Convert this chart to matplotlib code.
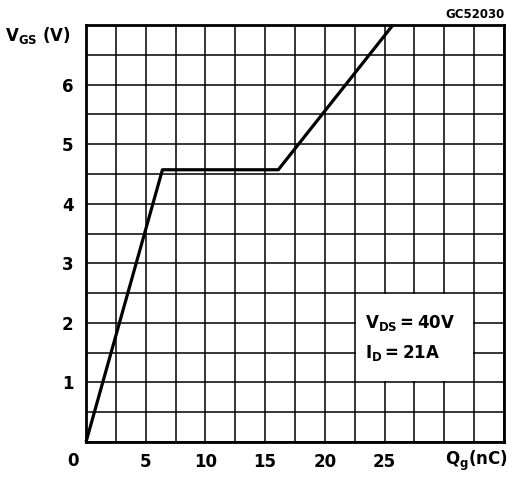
import matplotlib
matplotlib.use("Agg")
import matplotlib.pyplot as plt
import numpy as np
from matplotlib.patches import Rectangle

# gate charge curve (nC, V)
qg = [0.0, 6.4, 16.1, 25.7]
vgs = [0.0, 4.57, 4.57, 7.0]

x_labels = [5, 10, 15, 20, 25]
y_labels = [1, 2, 3, 4, 5, 6]
x_max, y_max = 35, 7

plt.rcParams['font.family'] = ['DejaVu Sans']
plt.rcParams['font.weight'] = 'bold'
plt.rcParams['mathtext.default'] = 'regular'

fig = plt.figure(figsize=(5.12, 4.78), dpi=100)
ax = fig.add_axes([86 / 512, 1 - 442 / 478, 418 / 512, 417 / 478])

ax.set_xlim(0, x_max)
ax.set_ylim(0, y_max)

ax.set_xticks(x_labels)
ax.set_xticklabels([str(v) for v in x_labels])
ax.set_xticks(np.arange(0, x_max + 0.1, 2.5), minor=True)
ax.set_yticks(y_labels)
ax.set_yticklabels([str(v) for v in y_labels])
ax.set_yticks(np.arange(0, y_max + 0.1, 0.5), minor=True)
ax.tick_params(which='both', length=0)
ax.tick_params(axis='x', pad=8, labelsize=12)
ax.tick_params(axis='y', pad=9, labelsize=12)
ax.grid(which='both', color='black', linewidth=1.1)
ax.set_axisbelow(True)
for s in ax.spines.values():
    s.set_linewidth(2)
    s.set_zorder(5)

# white label box hiding the grid
ax.add_patch(Rectangle((22.6, 1.02), 9.8, 1.46, facecolor='white',
                       edgecolor='none', zorder=2))
ax.text(23.4, 2.0, 'V$_{DS}$\u2009=\u200940V', fontsize=12, va='center', zorder=3)
ax.text(23.4, 1.5, 'I$_{D}$\u2009=\u200921A', fontsize=12, va='center', zorder=3)

ax.plot(qg, vgs, color='black', linewidth=2.3, zorder=4, clip_on=False,
        solid_capstyle='butt')

fig.text(73 / 512, 1 - 461 / 478, '0', fontsize=12, ha='center', va='center')
fig.text(508 / 512, 1 - 461 / 478, r'Q$_{g}$(nC)', fontsize=12,
         ha='right', va='center')
fig.text(5 / 512, 1 - 36 / 478, r'V$_{GS}$ (V)', fontsize=12,
         ha='left', va='center')
fig.text(505 / 512, 1 - 14 / 478, 'GC52030', fontsize=8.5,
         ha='right', va='center')

fig.savefig('out.png', dpi=100)
